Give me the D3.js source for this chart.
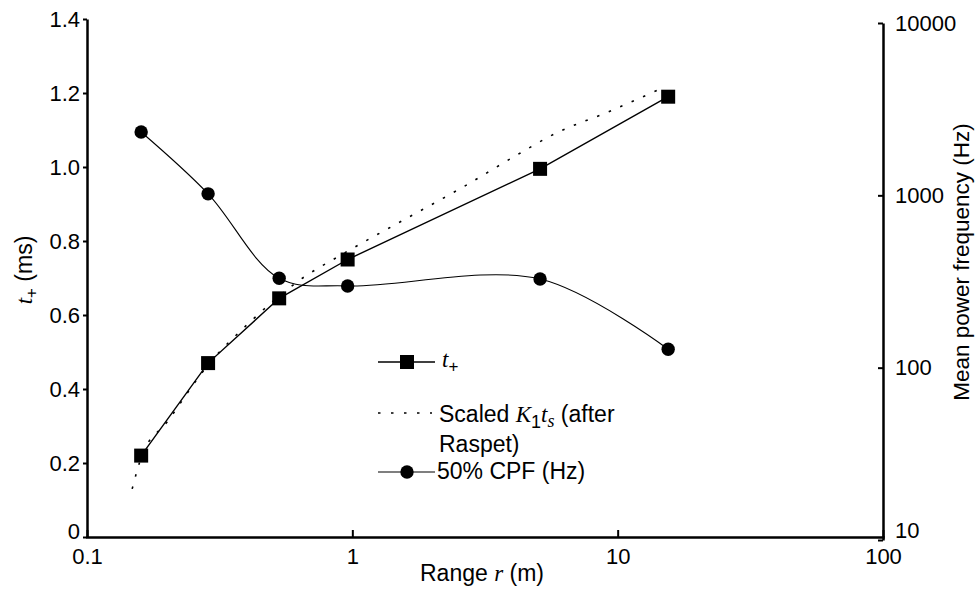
<!DOCTYPE html>
<html>
<head>
<meta charset="utf-8">
<script src="https://cdn.jsdelivr.net/npm/d3@7"></script>
<style>
  html, body { margin: 0; padding: 0; background: #fff; }
  svg { display: block; }
  text { font-family: "Liberation Sans", Arial, Helvetica, sans-serif; fill: #000; }
  .it { font-family: "Liberation Serif", "Times New Roman", serif; font-style: italic; }
</style>
</head>
<body>
<svg id="chart" width="980" height="590"></svg>
<script>
// ---- data ----
const rangeR   = [0.16, 0.286, 0.53, 0.96, 5.1, 15.5];          // Range r (m)
const tPlus    = [0.22, 0.47, 0.645, 0.75, 0.995, 1.19];         // t+ (ms)
const cpf50    = [2330, 1020, 330, 298, 327, 128];               // 50% CPF (Hz)
const raspetR  = [0.148, 0.161, 0.2, 0.286, 0.41, 0.65, 0.88, 1.5, 2.6, 4.3, 5.8, 9.3, 15];
const raspetT  = [0.13, 0.22, 0.31, 0.465, 0.58, 0.70, 0.757, 0.85, 0.945, 1.038, 1.09, 1.15, 1.216];
const xTicks   = [0.1, 1, 10, 100];
const xTickLabels = ["0.1", "1", "10", "100"];
const yLeftTicks  = [0, 0.2, 0.4, 0.6, 0.8, 1.0, 1.2, 1.4];
const yLeftLabels = ["0", "0.2", "0.4", "0.6", "0.8", "1.0", "1.2", "1.4"];
const yRightTicks  = [10, 100, 1000, 10000];
const yRightLabels = ["10", "100", "1000", "10000"];

// ---- layout ----
const svg = d3.select("#chart");
const x  = d3.scaleLog().domain([0.1, 100]).range([87, 883]);
const yL = d3.scaleLinear().domain([0, 1.4]).range([537, 19]);
const yR = d3.scaleLog().domain([10, 10000]).range([540, 23]);

// axes
const axL = svg.append("g").attr("transform", "translate(87,0)")
  .call(d3.axisLeft(yL).tickValues(yLeftTicks)
    .tickFormat((d, i) => yLeftLabels[i]).tickSizeInner(4).tickSizeOuter(0).tickPadding(3));
const axB = svg.append("g").attr("transform", "translate(0,537)")
  .call(d3.axisBottom(x).tickValues(xTicks)
    .tickFormat((d, i) => xTickLabels[i]).tickSizeInner(-7).tickSizeOuter(0).tickPadding(11));
const axR = svg.append("g").attr("transform", "translate(883,0)")
  .call(d3.axisRight(yR).tickValues(yRightTicks)
    .tickFormat((d, i) => yRightLabels[i]).tickSizeInner(-5).tickSizeOuter(0).tickPadding(12));

[axL, axB, axR].forEach(g => {
  g.selectAll(".domain").attr("stroke", "#000").attr("stroke-width", 2.5);
  g.selectAll(".tick line").attr("stroke", "#000").attr("stroke-width", 2);
  g.selectAll(".tick text").attr("font-size", 22)
    .attr("font-family", "'Liberation Sans', Arial, sans-serif").attr("fill", "#000");
});
axB.select(".domain").attr("stroke-linecap", "square");
// corner labels sit slightly raised, as in the reference
axL.selectAll(".tick text").filter(d => d === 0).attr("dy", "0.05em");
axR.selectAll(".tick text").filter(d => d === 10).attr("dy", "-0.1em");

// axis titles
svg.append("text")
  .attr("transform", "translate(32,270) rotate(-90)")
  .attr("text-anchor", "middle").attr("font-size", 23)
  .call(t => {
    t.append("tspan").attr("class", "it").text("t");
    t.append("tspan").attr("dy", 5).attr("font-size", 17).text("+");
    t.append("tspan").attr("dy", -5).text(" (ms)");
  });

svg.append("text")
  .attr("transform", "translate(969,262) rotate(-90)")
  .attr("text-anchor", "middle").attr("font-size", 22.5)
  .text("Mean power frequency (Hz)");

svg.append("text")
  .attr("x", 482).attr("y", 581)
  .attr("text-anchor", "middle").attr("font-size", 23)
  .call(t => {
    t.append("tspan").text("Range ");
    t.append("tspan").attr("class", "it").text("r");
    t.append("tspan").text(" (m)");
  });

// ---- series ----
const tData = rangeR.map((r, i) => ({ r, v: tPlus[i] }));
const cData = rangeR.map((r, i) => ({ r, v: cpf50[i] }));
const kData = raspetR.map((r, i) => ({ r, v: raspetT[i] }));

// Scaled K1 ts (dotted)
svg.append("path")
  .datum(kData)
  .attr("fill", "none").attr("stroke", "#000").attr("stroke-width", 1.6)
  .attr("stroke-dasharray", "2.5,10")
  .attr("d", d3.line().x(d => x(d.r)).y(d => yL(d.v)).curve(d3.curveMonotoneX));

// t+ line
svg.append("path")
  .datum(tData)
  .attr("fill", "none").attr("stroke", "#000").attr("stroke-width", 1.4)
  .attr("d", d3.line().x(d => x(d.r)).y(d => yL(d.v)));

svg.selectAll("rect.sq").data(tData).enter().append("rect")
  .attr("class", "sq")
  .attr("x", d => x(d.r) - 7).attr("y", d => yL(d.v) - 7)
  .attr("width", 14).attr("height", 14).attr("fill", "#000");

// CPF line
svg.append("path")
  .datum(cData)
  .attr("fill", "none").attr("stroke", "#000").attr("stroke-width", 1.1)
  .attr("d", d3.line().x(d => x(d.r)).y(d => yR(d.v)).curve(d3.curveCatmullRom.alpha(0.5)));

svg.selectAll("circle.cp").data(cData).enter().append("circle")
  .attr("class", "cp")
  .attr("cx", d => x(d.r)).attr("cy", d => yR(d.v))
  .attr("r", 6.7).attr("fill", "#000");

// ---- legend ----
const lg = svg.append("g");
lg.append("line").attr("x1", 378).attr("x2", 435).attr("y1", 362).attr("y2", 362)
  .attr("stroke", "#000").attr("stroke-width", 1.4);
lg.append("rect").attr("x", 400).attr("y", 355).attr("width", 14).attr("height", 14).attr("fill", "#000");
lg.append("text").attr("x", 442).attr("y", 367).attr("font-size", 23)
  .call(t => {
    t.append("tspan").attr("class", "it").text("t");
    t.append("tspan").attr("dy", 5).attr("font-size", 17).text("+");
  });

lg.append("line").attr("x1", 378).attr("x2", 432).attr("y1", 413).attr("y2", 413)
  .attr("stroke", "#000").attr("stroke-width", 1.6).attr("stroke-dasharray", "2.5,10.5");
lg.append("text").attr("x", 439).attr("y", 422).attr("font-size", 23)
  .call(t => {
    t.append("tspan").text("Scaled ");
    t.append("tspan").attr("class", "it").text("K");
    t.append("tspan").attr("dy", 6).attr("font-size", 18).text("1");
    t.append("tspan").attr("dy", -6).attr("class", "it").text("t");
    t.append("tspan").attr("dy", 5).attr("class", "it").attr("font-size", 18).text("s");
    t.append("tspan").attr("dy", -5).text(" (after");
  });
lg.append("text").attr("x", 439).attr("y", 452).attr("font-size", 23).text("Raspet)");

lg.append("line").attr("x1", 378).attr("x2", 435).attr("y1", 472).attr("y2", 472)
  .attr("stroke", "#000").attr("stroke-width", 1.1);
lg.append("circle").attr("cx", 407).attr("cy", 472).attr("r", 6.7).attr("fill", "#000");
lg.append("text").attr("x", 437).attr("y", 479).attr("font-size", 23).text("50% CPF (Hz)");
</script>
</body>
</html>
